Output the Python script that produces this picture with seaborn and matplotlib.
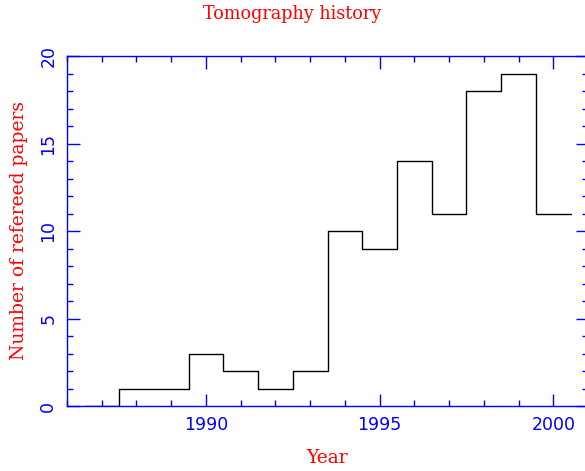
#!/usr/bin/env python3

import pandas as pd
import seaborn as sns
import matplotlib.pyplot as plt
from matplotlib.ticker import MultipleLocator

years = [1987, 1988, 1989, 1990, 1991, 1992, 1993, 1994, 1995, 1996, 1997, 1998, 1999, 2000]
papers = [0, 1, 1, 3, 2, 1, 2, 10, 9, 14, 11, 18, 19, 11]

df = pd.DataFrame({"year": years, "papers": papers})

sns.set_style("ticks")
plt.rcParams["font.family"] = ["DejaVu Serif"]

f = plt.figure(figsize=(5.85, 4.71), dpi=100)
ax = f.add_axes([67 / 585, 65 / 471, 521 / 585, 350 / 471])

sns.histplot(data=df, x="year", weights="papers", discrete=True, element="step",
             fill=False, color="black", linewidth=1.0, ax=ax)

ax.set_xlim(1986, 2001)
ax.set_ylim(0, 20)
ax.xaxis.set_major_locator(MultipleLocator(5))
ax.xaxis.set_minor_locator(MultipleLocator(1))
ax.yaxis.set_major_locator(MultipleLocator(5))
ax.yaxis.set_minor_locator(MultipleLocator(1))

blue = "#0000ff"
for s in ax.spines.values():
    s.set_visible(True)
    s.set_color(blue)
    s.set_linewidth(1.0)
ax.tick_params(which="both", direction="in", top=True, right=True, color=blue,
               labelcolor=blue, labelsize=12.5, width=1.0)
ax.tick_params(which="major", length=9, pad=7)
ax.tick_params(which="minor", length=4.5)
for lab in ax.get_yticklabels():
    lab.set_rotation(90)
    lab.set_va("center")
for lab in ax.get_xticklabels() + ax.get_yticklabels():
    lab.set_family("DejaVu Sans")

ax.set_xlabel("Year", color="red", fontsize=13.5, labelpad=11)
ax.set_ylabel("Number of refereed papers", color="red", fontsize=13.5, labelpad=8)
f.text(0.5, 1 - 14 / 471, "Tomography history", color="red", fontsize=12.7,
       ha="center", va="center")

plt.savefig("out.png", dpi=100)
